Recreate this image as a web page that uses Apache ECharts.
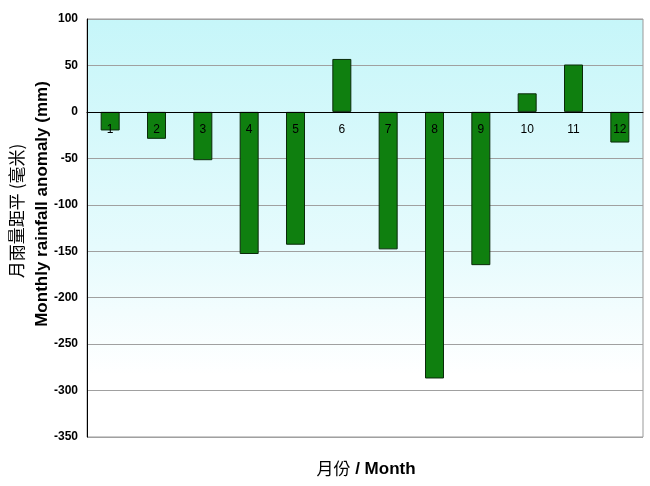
<!DOCTYPE html>
<html>
<head>
<meta charset="utf-8">
<script src="https://cdn.jsdelivr.net/npm/echarts@6/dist/echarts.min.js"></script>
<style>html,body{margin:0;padding:0;background:#fff}#c{width:650px;height:486px}</style>
</head>
<body>
<div id="c"></div>
<script>
const months = ['1','2','3','4','5','6','7','8','9','10','11','12'];
const anomaly = [-20, -29, -52, -153, -143, 57, -148, -287, -165, 20, 51, -33];
const yTicks = {min: -350, max: 100, interval: 50};

const W = 650, H = 486;
const gridTop = 19, gridBottom = 49;
const gridH = H - gridTop - gridBottom;
const zeroOffset = -((0 - yTicks.min) / (yTicks.max - yTicks.min)) * gridH;

const chart = echarts.init(document.getElementById('c'));
chart.setOption({
  animation: false,
  backgroundColor: '#fff',
  grid: {
    left: 87, right: 7, top: gridTop, bottom: gridBottom,
    show: true,
    borderColor: '#999', borderWidth: 1,
    backgroundColor: {
      type: 'linear', x: 0, y: 0, x2: 0, y2: 1,
      colorStops: [{offset: 0, color: '#c6f6f9'}, {offset: 0.55, color: '#e6fbfd'}, {offset: 0.85, color: '#ffffff'}, {offset: 1, color: '#ffffff'}]
    }
  },
  xAxis: {
    type: 'category',
    data: months,
    z: 3,
    position: 'bottom',
    offset: zeroOffset,
    axisLine: {onZero: false, lineStyle: {color: '#000', width: 1}},
    axisTick: {inside: true, length: 3, lineStyle: {color: '#000'}},
    axisLabel: {color: '#000', fontFamily: 'Liberation Sans, Arial', fontSize: 12, margin: 12}
  },
  yAxis: {
    type: 'value',
    min: yTicks.min, max: yTicks.max, interval: yTicks.interval,
    axisLine: {show: true, lineStyle: {color: '#000'}},
    axisTick: {show: false},
    axisLabel: {color: '#000', fontFamily: 'Liberation Sans, Arial', fontWeight: 'bold', fontSize: 12, margin: 9},
    splitLine: {lineStyle: {color: '#a0a0a0', width: 1}}
  },
  series: [{
    type: 'bar',
    data: anomaly,
    barWidth: 19,
    itemStyle: {color: '#0f7f0f', borderColor: '#0a2a0a', borderWidth: 1}
  }],
  graphic: [
    {type: 'text', rotation: Math.PI/2, x: 17, y: 211,
     style: {text: '月雨量距平 (毫米)', fontFamily: 'Noto Sans CJK TC', fontSize: 17, fill: '#000', align: 'center', verticalAlign: 'middle'}},
    {type: 'text', rotation: Math.PI/2, x: 42, y: 204,
     style: {text: 'Monthly rainfall anomaly (mm)', fontFamily: 'Liberation Sans, Arial', fontWeight: 'bold', fontSize: 17, fill: '#000', align: 'center', verticalAlign: 'middle'}},
    {type: 'text', x: 366, y: 469,
     style: {text: '{a|月份}{b| / Month}', fill: '#000', align: 'center', verticalAlign: 'middle',
       rich: {
         a: {fontFamily: 'Noto Sans CJK TC', fontSize: 17, fill: '#000'},
         b: {fontFamily: 'Liberation Sans, Arial', fontWeight: 'bold', fontSize: 17, fill: '#000'}
       }}}
  ]
});
</script>
</body>
</html>
